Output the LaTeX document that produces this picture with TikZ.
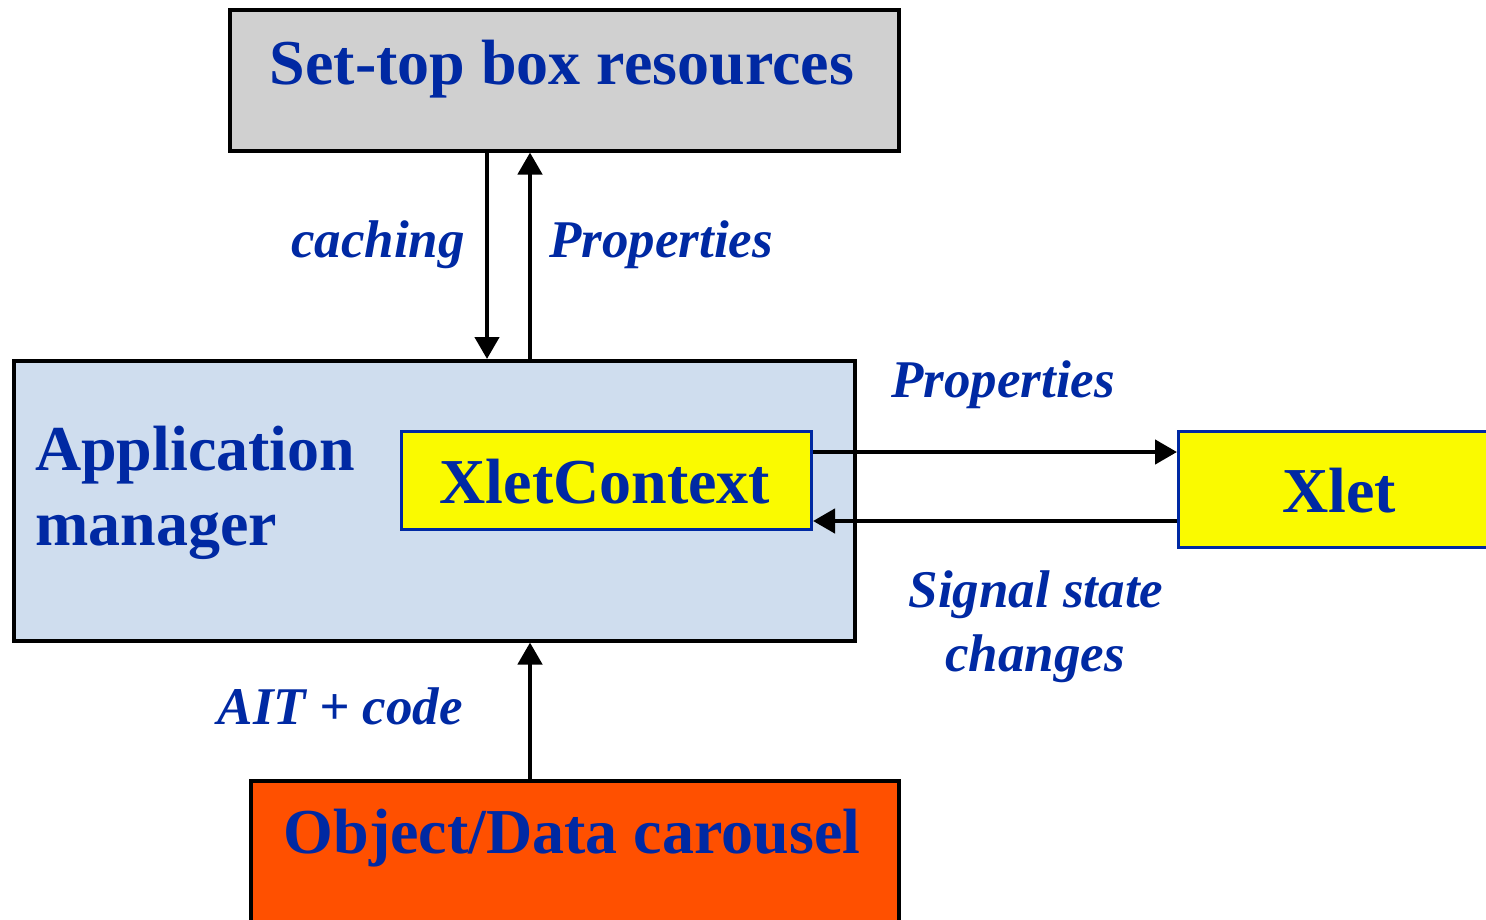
\documentclass[tikz,border=0pt]{standalone}
\usepackage{fontspec}
\setmainfont{Liberation Serif}
\usetikzlibrary{arrows.meta}
\definecolor{txtblue}{HTML}{0029A3}
\definecolor{boxgray}{HTML}{D0D0D0}
\definecolor{boxlblue}{HTML}{CFDDEE}
\definecolor{boxyellow}{HTML}{FAFA00}
\definecolor{boxorange}{HTML}{FF5000}
\tikzset{
  box/.style={draw=black, line width=3.5pt, inner sep=0pt, rectangle},
  ybox/.style={draw=txtblue, line width=3pt, fill=boxyellow, inner sep=0pt, rectangle},
  big/.style={text=txtblue, font=\fontsize{64}{75}\selectfont\bfseries, inner sep=0pt},
  lab/.style={text=txtblue, font=\fontsize{53}{64}\selectfont\bfseries\itshape, inner sep=0pt},
  conn/.style={line width=4.5pt, -{Triangle[length=22pt,width=24pt]}}
}
\begin{document}
\begin{tikzpicture}[x=1pt,y=-1pt]
\useasboundingbox (0,0) rectangle (1486,919);
% boxes
\node[box, fill=boxgray, minimum width=669pt, minimum height=141pt, anchor=north west] (stb) at (228,8) {};
\node[box, fill=boxlblue, minimum width=841pt, minimum height=280pt, anchor=north west] (am) at (12,359) {};
\node[ybox, minimum width=410pt, minimum height=98pt, anchor=north west] (xc) at (400,430) {};
\node[ybox, minimum width=340pt, minimum height=116pt, anchor=north west] (xl) at (1177,430) {};
\node[box, fill=boxorange, minimum width=648pt, minimum height=160pt, anchor=north west] (odc) at (249,779) {};
% texts
\node[big, anchor=base] (tstb) at (562,84) {Set-top box resources};
\node[big, anchor=base west] (tam) at (35,470) {Application};
\node[big, anchor=base west] (tam2) at (35,545) {manager};
\node[big, anchor=base] (txc) at (605,503) {XletContext};
\node[big, anchor=base] (txl) at (1339,512) {Xlet};
\node[big, anchor=base] (todc) at (572,853) {Object/Data carousel};
% labels
\node[lab, anchor=base east] (lcach) at (465,257) {caching};
\node[lab, anchor=base west] (lprop1) at (549,257) {Properties};
\node[lab, anchor=base west] (lprop2) at (891,397) {Properties};
\node[lab, anchor=base] (lsig1) at (1036,607) {Signal state};
\node[lab, anchor=base] (lsig2) at (1035,671) {changes};
\node[lab, anchor=base east] (lait) at (463,724) {AIT + code};
% connectors
\coordinate (c1a) at (487,149); \coordinate (c1b) at (487,359);
\coordinate (c2a) at (530,359); \coordinate (c2b) at (530,149);
\coordinate (c3a) at (810,452); \coordinate (c3b) at (1177,452);
\coordinate (c4a) at (1177,521); \coordinate (c4b) at (810,521);
\coordinate (c5a) at (530,779); \coordinate (c5b) at (530,639);
\draw[conn] (stb.south -| c1a) -- (am.north -| c1b);
\draw[conn] (am.north -| c2a) -- (stb.south -| c2b);
\draw[conn] (xc.east |- c3a) -- (xl.west |- c3b);
\draw[conn] (xl.west |- c4a) -- (xc.east |- c4b);
\draw[conn] (odc.north -| c5a) -- (am.south -| c5b);
\end{tikzpicture}
\end{document}
